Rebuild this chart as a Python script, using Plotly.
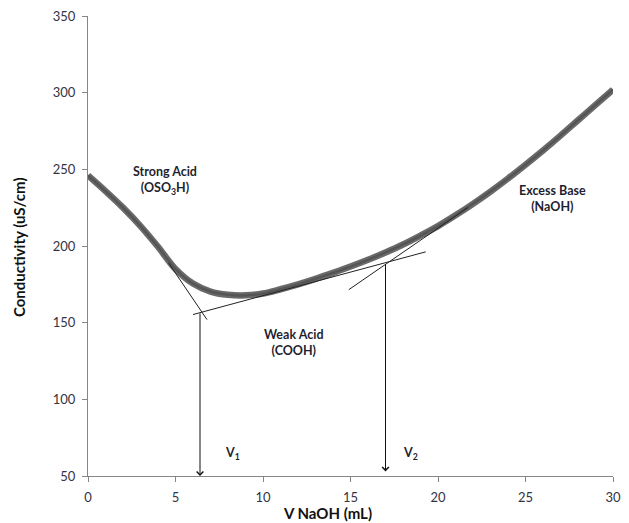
import plotly.graph_objects as go

# Titration data
vol_naoh = [0, 1, 2, 3, 4, 5, 6, 7, 8, 9, 10, 11, 12, 13, 14, 15,
            16, 17, 18, 19, 20, 21, 22, 23, 24, 25, 26, 27, 28, 29, 30]
conductivity = [246, 235.8, 225, 213, 199.5, 185, 175.5, 170.3, 168.2, 167.8, 169, 171.8, 175, 178.6, 182.5, 186.6,
                191, 195.8, 201, 206.8, 213, 220, 227.5, 235.5, 244, 253, 262.3, 272, 282, 292, 302]

# Tangent lines (x, y endpoints)
strong_tangent_x = [4.6, 6.8]
strong_tangent_y = [189, 152]
weak_tangent_x = [6.0, 19.3]
weak_tangent_y = [155.3, 196.2]
base_tangent_x = [14.9, 21.7]
base_tangent_y = [171.5, 225]

# Equivalence points (x, start y, end y)
v1_x, v1_top, v1_bottom = 6.4, 157, 50
v2_x, v2_top, v2_bottom = 17.0, 189, 53

x_ticks = [0, 5, 10, 15, 20, 25, 30]
y_ticks = [50, 100, 150, 200, 250, 300, 350]

txt_color = "#1f1f2f"
font_family = "Lato, 'Open Sans', sans-serif"

fig = go.Figure()
fig.add_trace(go.Scatter(x=vol_naoh, y=conductivity, mode="lines",
                         line=dict(color="#6a6a6a", width=6.5, shape="spline", smoothing=1.0),
                         cliponaxis=False, hoverinfo="skip"))
fig.add_trace(go.Scatter(x=vol_naoh, y=conductivity, mode="lines",
                         line=dict(color="#555555", width=2.5, shape="spline", smoothing=1.0),
                         cliponaxis=False, hoverinfo="skip"))
for tx, ty in [(strong_tangent_x, strong_tangent_y), (weak_tangent_x, weak_tangent_y),
               (base_tangent_x, base_tangent_y)]:
    fig.add_trace(go.Scatter(x=tx, y=ty, mode="lines",
                             line=dict(color="#222222", width=1), hoverinfo="skip"))

for vx, vt, vb in [(v1_x, v1_top, v1_bottom), (v2_x, v2_top, v2_bottom)]:
    fig.add_annotation(x=vx, y=vb, ax=vx, ay=vt, xref="x", yref="y", axref="x", ayref="y",
                       showarrow=True, arrowhead=4, arrowsize=1.3, arrowwidth=1,
                       arrowcolor="#111111", text="")

labels = [
    (4.4, 242.6, "<b>Strong Acid</b><br><b>(OSO<sub>3</sub>H)</b>"),
    (11.75, 137.2, "<b>Weak Acid</b><br><b>(COOH)</b>"),
    (26.56, 230.9, "<b>Excess Base</b><br><b>(NaOH)</b>"),
    (8.27, 64.6, "<b>V<sub>1</sub></b>"),
    (18.4, 64.9, "<b>V<sub>2</sub></b>"),
]
for lx, ly, lt in labels:
    fig.add_annotation(x=lx, y=ly, text=lt, showarrow=False,
                       font=dict(family=font_family, size=12.5, color=txt_color),
                       xanchor="center", yanchor="middle")

# Axis titles
fig.add_annotation(x=(331 - 88) / 533, y=-(513 - 476) / 460, xref="paper", yref="paper",
                   text="<b>V NaOH (mL)</b>", showarrow=False,
                   xanchor="center", yanchor="middle",
                   font=dict(family=font_family, size=15, color="#111111"))
fig.add_annotation(x=-(88 - 18) / 533, y=(476 - 247) / 460, xref="paper", yref="paper",
                   text="<b>Conductivity (uS/cm)</b>", textangle=-90, showarrow=False,
                   xanchor="center", yanchor="middle",
                   font=dict(family=font_family, size=15, color="#111111"))

axis_common = dict(showgrid=False, zeroline=False, showline=True, linecolor="#868686",
                   linewidth=1, ticks="outside", ticklen=5, tickcolor="#868686",
                   tickfont=dict(family=font_family, size=13, color="#333344"))
fig.update_xaxes(range=[0, 30], tickvals=x_ticks, ticklabelstandoff=4, **axis_common)
fig.update_yaxes(range=[50, 350], tickvals=y_ticks, ticklabelstandoff=4, **axis_common)

fig.update_layout(width=629, height=523, margin=dict(l=88, r=8, t=16, b=47),
                  paper_bgcolor="white", plot_bgcolor="white", showlegend=False)

fig.write_html("out.html")
